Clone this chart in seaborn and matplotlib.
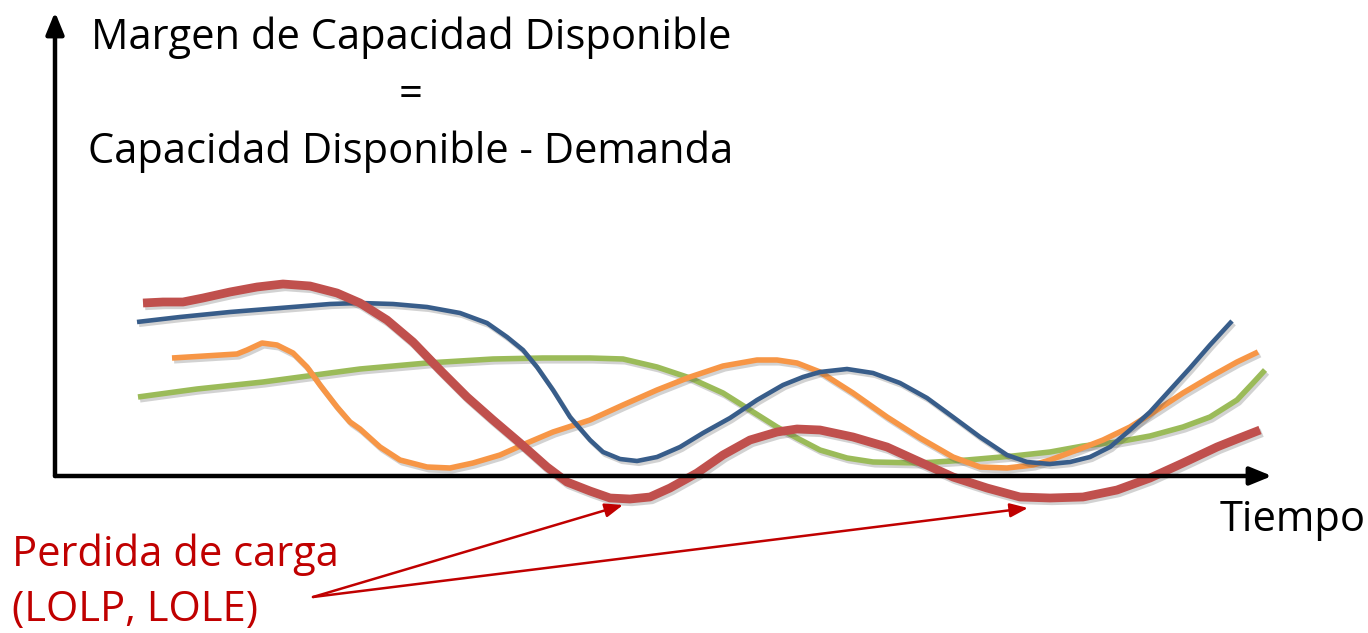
import numpy as np
import pandas as pd
import seaborn as sns
import matplotlib.pyplot as plt
import matplotlib.patheffects as pe

# curves: time (px from left) and margin (px above the time axis)
blue_t = [137, 180, 230, 280, 330, 360, 393, 427, 460, 487, 507, 523, 537, 553, 570, 590,
          603, 620, 637, 657, 680, 703, 730, 757, 783, 803, 820, 847, 873, 900, 927, 953,
          980, 1007, 1027, 1050, 1070, 1090, 1110, 1130, 1150, 1170, 1190, 1210, 1232]
blue_m = [154, 159, 164, 168, 172, 173, 172, 169, 163, 153, 139, 126, 109, 86, 59, 36,
          24, 17, 15, 19, 29, 43, 58, 76, 91, 99, 104, 107, 103, 93, 78, 59,
          39, 21, 14, 12, 14, 19, 29, 46, 64, 86, 108, 131, 155]

red_t = [143, 163, 183, 203, 230, 257, 283, 310, 337, 360, 387, 413, 440, 467, 493, 520,
         547, 567, 590, 610, 630, 650, 670, 697, 723, 750, 777, 797, 820, 853, 887, 920,
         953, 987, 1020, 1050, 1083, 1117, 1150, 1183, 1217, 1237, 1260]
red_m = [173, 174, 174, 178, 184, 189, 192, 190, 183, 173, 156, 134, 106, 79, 56, 33,
         9, -6, -15, -22, -23, -21, -12, 3, 21, 36, 44, 47, 46, 39, 29, 14,
         -1, -12, -21, -22, -21, -14, -2, 13, 29, 37, 46]

orange_t = [172, 237, 247, 262, 277, 293, 307, 320, 337, 350, 360, 380, 400, 427, 450, 473,
            500, 527, 553, 590, 623, 657, 690, 723, 757, 777, 797, 820, 853, 887, 920,
            953, 980, 1007, 1033, 1050, 1077, 1103, 1130, 1157, 1183, 1210, 1237, 1258]
orange_m = [118, 122, 126, 133, 131, 123, 109, 91, 69, 54, 47, 29, 16, 9, 8, 13,
            21, 33, 44, 56, 71, 86, 99, 110, 116, 116, 113, 104, 83, 59, 38,
            19, 9, 8, 11, 16, 26, 36, 49, 66, 83, 99, 114, 124]

green_t = [138, 197, 263, 330, 360, 427, 493, 543, 590, 623, 657, 690, 723, 750, 777, 797,
           820, 847, 873, 920, 967, 1013, 1050, 1083, 1117, 1150, 1183, 1210, 1237, 1253, 1265]
green_m = [79, 87, 94, 103, 107, 113, 117, 118, 118, 117, 109, 98, 83, 66, 49, 38,
           26, 18, 14, 13, 16, 20, 24, 30, 34, 40, 49, 59, 76, 93, 106]

series = [
    ("verde", green_t, green_m, "#9BBB59", 4.0),
    ("naranja", orange_t, orange_m, "#F79646", 4.0),
    ("azul", blue_t, blue_m, "#385D8A", 3.3),
    ("rojo", red_t, red_m, "#C0504D", 6.3),
]

sns.set_theme(style="white")
plt.rcParams['font.family'] = ['Open Sans', 'DejaVu Sans']

fig = plt.figure(figsize=(13.68, 6.33), dpi=100)
ax = fig.add_axes([0, 0, 1, 1])
ax.set_xlim(0, 1368)
ax.set_ylim(476 - 633, 476)
ax.axis('off')

shadow = [pe.SimpleLineShadow(offset=(1.5, -2), alpha=0.25, shadow_color='0.3'), pe.Normal()]
for name, t, m, col, lw in series:
    df = pd.DataFrame({'t': t, 'm': m})
    sns.lineplot(data=df, x='t', y='m', ax=ax, color=col, linewidth=lw, sort=False,
                 estimator=None, solid_capstyle='butt', solid_joinstyle='round',
                 path_effects=shadow)

# axes arrows
ax.annotate('', xy=(1272, 0), xytext=(55, 0),
            arrowprops=dict(arrowstyle='-|>,head_length=1.1,head_width=0.45', lw=3.2, color='black',
                            shrinkA=0, shrinkB=0))
ax.annotate('', xy=(55, 476 - 12), xytext=(55, 0),
            arrowprops=dict(arrowstyle='-|>,head_length=1.1,head_width=0.45', lw=3.2, color='black',
                            shrinkA=0, shrinkB=0))

# texts
fs = 30
ax.text(411, 476 - 38, 'Margen de Capacidad Disponible', ha='center', va='center', fontsize=fs, color='black')
ax.text(411, 476 - 95, '=', ha='center', va='center', fontsize=fs, color='black')
ax.text(411, 476 - 152, 'Capacidad Disponible - Demanda', ha='center', va='center', fontsize=fs, color='black')
ax.text(1366, 476 - 520, 'Tiempo', ha='right', va='center', fontsize=fs, color='black')
ax.text(12, 476 - 555, 'Perdida de carga', ha='left', va='center', fontsize=fs, color='#C00000')
ax.text(12, 476 - 610, '(LOLP, LOLE)', ha='left', va='center', fontsize=fs, color='#C00000')

# arrows pointing to the loss-of-load dips
for tip in [(623, 476 - 505), (1028, 476 - 508)]:
    ax.annotate('', xy=tip, xytext=(313, 476 - 597),
                arrowprops=dict(arrowstyle='-|>,head_length=0.9,head_width=0.35', lw=1.8, color='#C00000',
                                shrinkA=0, shrinkB=0))

fig.savefig('out.png', dpi=100)
